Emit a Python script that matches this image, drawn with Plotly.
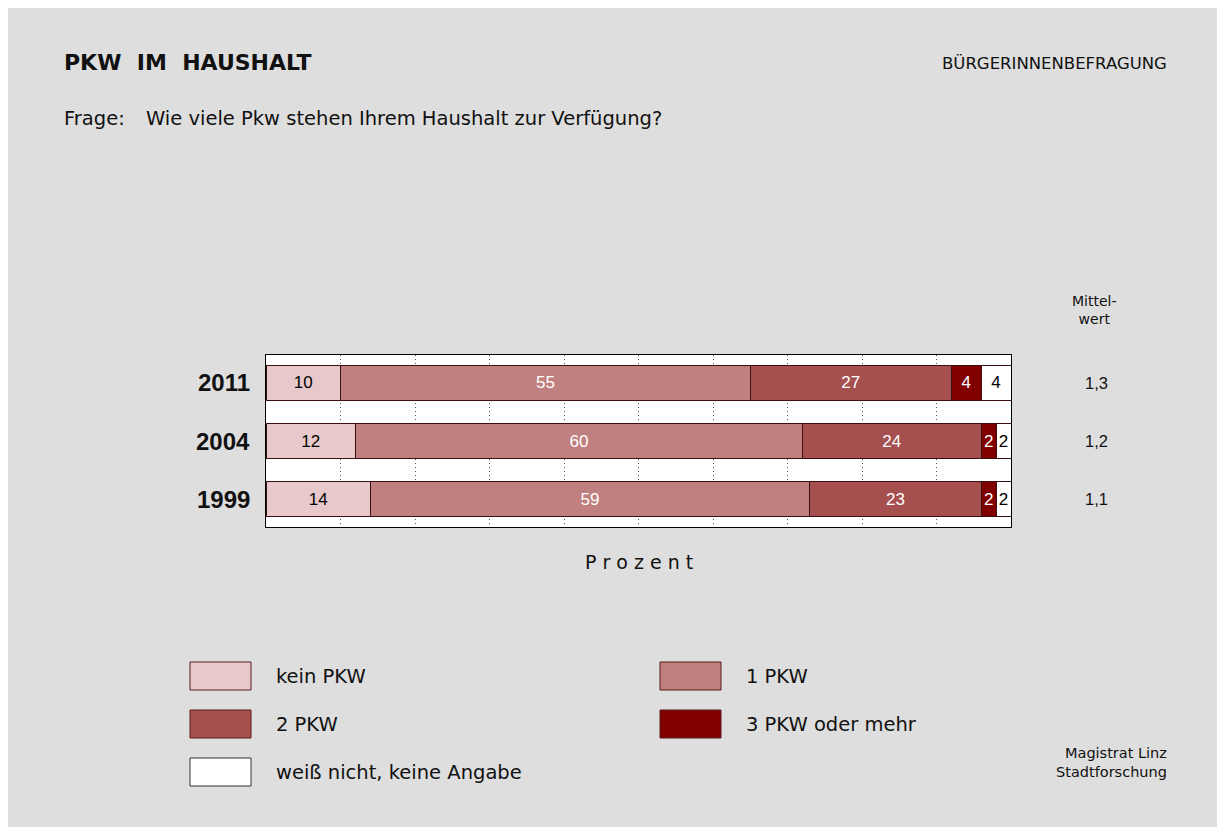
import plotly.graph_objects as go

years = ["1999", "2004", "2011"]
categories = ["kein PKW", "1 PKW", "2 PKW", "3 PKW oder mehr", "weiß nicht, keine Angabe"]
values = {
    "kein PKW": [14, 12, 10],
    "1 PKW": [59, 60, 55],
    "2 PKW": [23, 24, 27],
    "3 PKW oder mehr": [2, 2, 4],
    "weiß nicht, keine Angabe": [2, 2, 4],
}
means = ["1,1", "1,2", "1,3"]
colors = ["#e8c9cb", "#c08080", "#a64f4f", "#800000", "#ffffff"]
text_colors = ["#000000", "#ffffff", "#ffffff", "#ffffff", "#000000"]

FONT = "DejaVu Sans, sans-serif"
NUMFONT = "Liberation Sans, Arial, sans-serif"
OFF = 8  # page body margin
W, H = 1215, 819
PL, PR, PT, PB = 266, 1011, 355, 527  # plot area in screen pixels

fig = go.Figure()
for cat, col, tc in zip(categories, colors, text_colors):
    fig.add_trace(go.Bar(
        y=list(range(len(years))), x=values[cat], orientation="h", name=cat,
        marker=dict(color=col, line=dict(color="#3a1010", width=1)),
        width=0.59,
        text=[str(v) for v in values[cat]], textposition="inside",
        insidetextanchor="middle", constraintext="none",
        textfont=dict(family=NUMFONT, size=17, color=tc),
        showlegend=False, cliponaxis=False,
    ))

fig.update_layout(
    barmode="stack", width=W, height=H, autosize=False,
    margin=dict(l=PL - OFF, r=W - (PR - OFF), t=PT - OFF, b=H - (PB - OFF), pad=0),
    paper_bgcolor="#dedede", plot_bgcolor="#ffffff",
    font=dict(family=FONT, color="#111111"),
)
fig.update_xaxes(range=[0, 100], showticklabels=False, ticks="",
                 showgrid=True, gridcolor="#555555", griddash="1px,3px", gridwidth=1,
                 dtick=10, showline=True, linecolor="#000000", linewidth=1, mirror=True,
                 zeroline=False, fixedrange=True)
fig.update_yaxes(range=[-0.48, 2.48], showticklabels=False, showgrid=False, showline=True,
                 linecolor="#000000", linewidth=1, mirror=True, zeroline=False, fixedrange=True)

def px(x):
    return (x - PL) / (PR - PL)

def py(y):
    return (PB - y) / (PB - PT)

shapes = []
ann = []

def text(x, y, s, size, anchor="left", bold=False, family=FONT, color="#111111"):
    ann.append(dict(xref="paper", yref="paper", x=px(x), y=py(y), text=("<b>%s</b>" % s) if bold else s,
                    showarrow=False, xanchor=anchor, yanchor="middle",
                    font=dict(family=family, size=size, color=color)))

text(62, 62, "PKW&nbsp;&nbsp;IM&nbsp;&nbsp;HAUSHALT", 22, bold=True)
text(1169, 63, "BÜRGERINNENBEFRAGUNG", 16.5, anchor="right")
text(62, 118, "Frage:", 19.5)
text(144, 118, "Wie viele Pkw stehen Ihrem Haushalt zur Verfügung?", 19.5)

for i, (yr, m) in enumerate(zip(years, means)):
    ann.append(dict(xref="paper", yref="y", x=px(252), y=i, text="<b>%s</b>" % yr, showarrow=False,
                    xanchor="right", yanchor="middle", font=dict(family=NUMFONT, size=24, color="#111111")))
    ann.append(dict(xref="paper", yref="y", x=px(1096), y=i, text=m, showarrow=False,
                    xanchor="center", yanchor="middle", font=dict(family=NUMFONT, size=16.5, color="#111111")))

ann.append(dict(xref="paper", yref="paper", x=px(1094), y=py(310), text="Mittel-<br>wert", showarrow=False,
                xanchor="center", yanchor="middle", align="center",
                font=dict(family=FONT, size=14, color="#111111")))
text(639, 562, "P r o z e n t", 19, anchor="center")

leg_pos = [(190, 676), (660, 676), (190, 724), (660, 724), (190, 772)]
for (lx, ly), cat, col in zip(leg_pos, categories, colors):
    shapes.append(dict(type="rect", xref="paper", yref="paper", x0=px(lx), x1=px(lx + 61),
                       y0=py(ly + 14), y1=py(ly - 14), fillcolor=col,
                       line=dict(color="#5a1a1a" if col != "#ffffff" else "#333333", width=1)))
    text(lx + 84, ly, cat, 19.5)

ann.append(dict(xref="paper", yref="paper", x=px(1169), y=py(762), text="Magistrat Linz<br>Stadtforschung",
                showarrow=False, xanchor="right", yanchor="middle", align="right",
                font=dict(family=FONT, size=14.5, color="#111111")))

fig.update_layout(shapes=shapes, annotations=ann)
fig.write_html("out.html")
